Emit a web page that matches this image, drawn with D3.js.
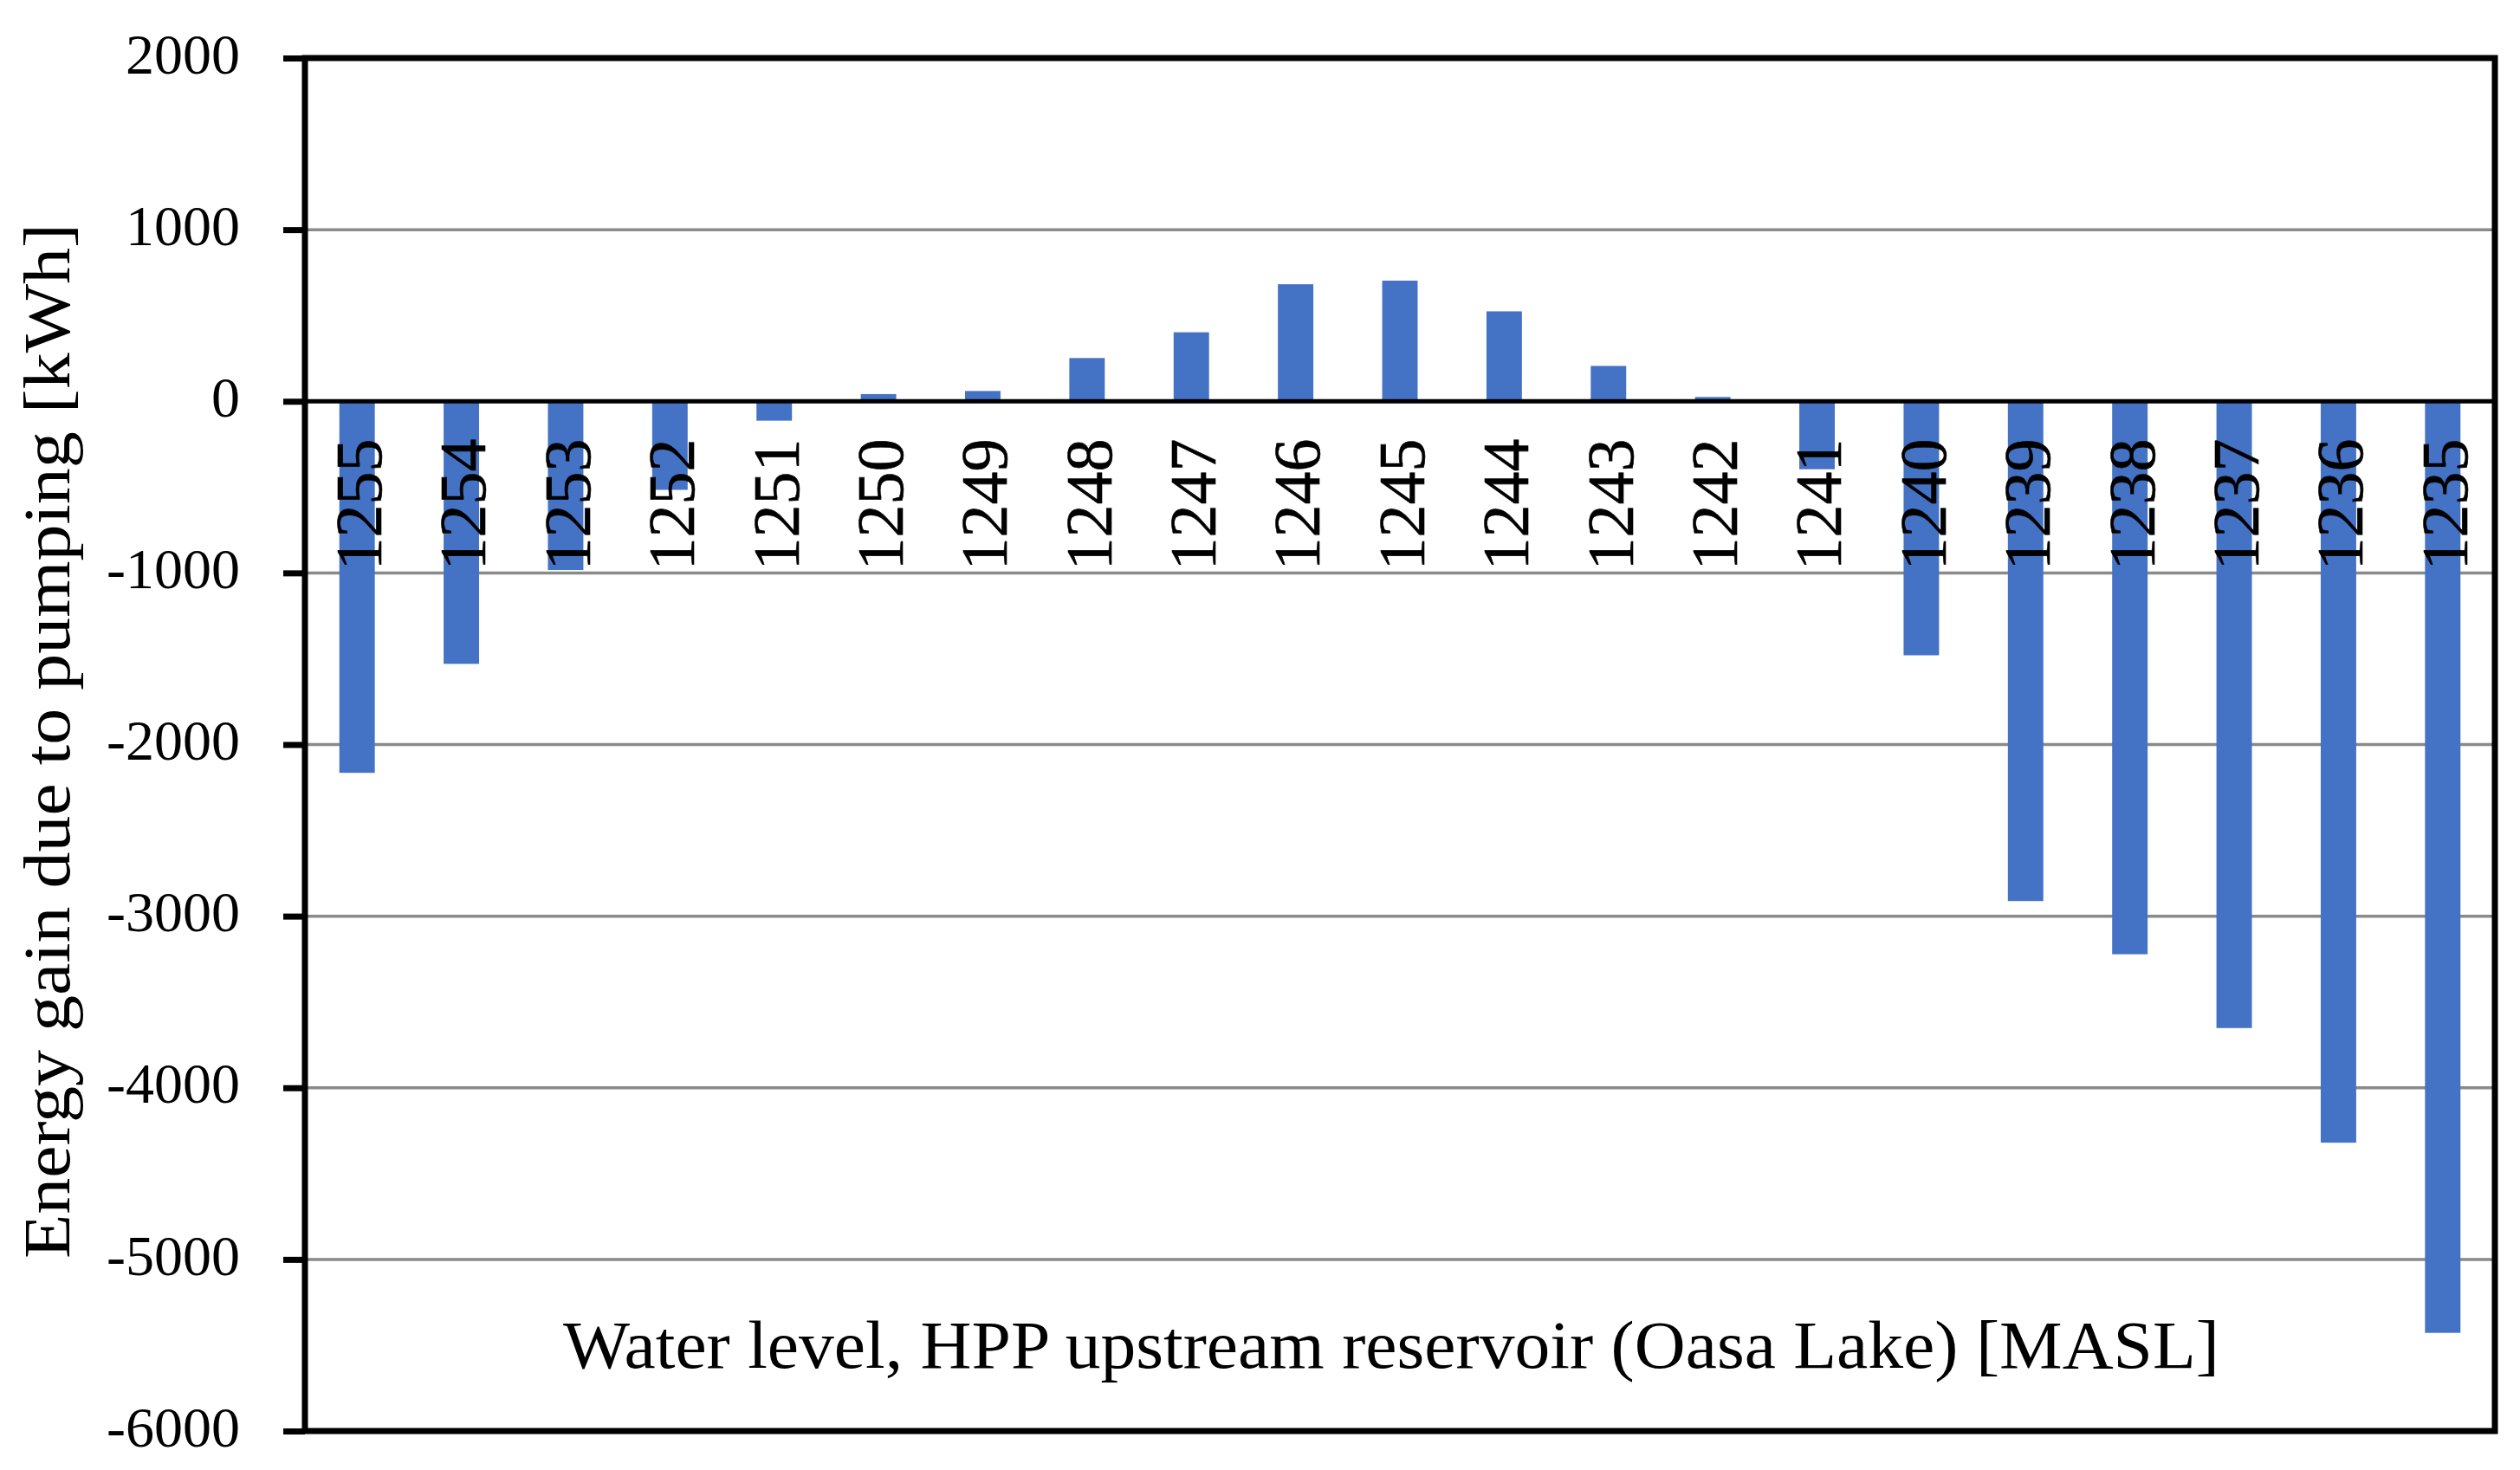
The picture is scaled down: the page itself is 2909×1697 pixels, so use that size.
<!DOCTYPE html>
<html>
<head>
<meta charset="utf-8">
<script src="https://cdn.jsdelivr.net/npm/d3@7"></script>
<style>
  body { margin: 0; background: #fff; }
  svg { display: block; }
  text { font-family: "Liberation Serif", "Times New Roman", serif; fill: #000; }
</style>
</head>
<body>
<svg id="chart"></svg>
<script>
// water level categories, left to right
var levels = ["1255", "1254", "1253", "1252", "1251", "1250", "1249", "1248", "1247", "1246", "1245",
              "1244", "1243", "1242", "1241", "1240", "1239", "1238", "1237", "1236", "1235"];
// energy gain per level [kWh]
var gain = [-2165, -1530, -983, -516, -113, 42, 60, 252, 402, 682, 703,
            524, 206, 25, -396, -1480, -2912, -3222, -3652, -4320, -5428];
var yTicks = [2000, 1000, 0, -1000, -2000, -3000, -4000, -5000, -6000];
var yTitle = "Energy gain due to pumping [kWh]";
var xTitle = "Water level, HPP upstream reservoir (Oasa Lake) [MASL]";

var W = 2909, H = 1697;
// plot area (note: "top" is a reserved window prop, so use pTop etc)
var pLeft = 352, pRight = 2880, pTop = 67, pBottom = 1652;

var svg = d3.select('#chart').attr('width', W).attr('height', H);

var x = d3.scaleBand().domain(levels).range([pLeft, pRight]).paddingInner(0.66).paddingOuter(0.33);
var y = d3.scaleLinear().domain([-6000, 2000]).range([pBottom, pTop]);

// gridlines
svg.append('g')
    .selectAll('line')
    .data(yTicks.filter(function(d){ return d != 0 && d != 2000 && d != -6000; }))
    .join('line')
    .attr('x1', pLeft).attr('x2', pRight)
    .attr('y1', function(d){ return y(d); }).attr('y2', function(d){ return y(d); })
    .attr('stroke', '#8a8a8a').attr('stroke-width', 3.5);

// bars
svg.append('g')
    .selectAll('rect')
    .data(levels)
    .join('rect')
    .attr('x', function(d){ return x(d); })
    .attr('width', x.bandwidth())
    .attr('y', function(d, i){ return Math.min(y(0), y(gain[i])); })
    .attr('height', function(d, i){ return Math.abs(y(gain[i]) - y(0)); })
    .attr('fill', '#4472C4');

// zero line
svg.append('line')
    .attr('x1', pLeft).attr('x2', pRight)
    .attr('y1', y(0)).attr('y2', y(0))
    .attr('stroke', '#000').attr('stroke-width', 5);

// plot border
svg.append('rect')
    .attr('x', pLeft).attr('y', pTop)
    .attr('width', pRight - pLeft).attr('height', pBottom - pTop)
    .attr('fill', 'none').attr('stroke', '#000').attr('stroke-width', 7);

// y axis
var ax = d3.axisLeft(y).tickValues(yTicks).tickSize(25).tickPadding(50)
    .tickFormat(function(d){ return String(d); });
var gy = svg.append('g').attr('transform', 'translate(' + pLeft + ',0)').call(ax);
gy.select('.domain').remove();
gy.selectAll('.tick line').attr('stroke', '#000').attr('stroke-width', 7);
gy.selectAll('.tick text')
    .attr('font-family', '"Liberation Serif", serif')
    .attr('font-size', 66)
    .attr('dy', '0.26em')
    .attr('fill', '#000');

// category labels, rotated, sitting on the -1000 line
svg.append('g')
    .selectAll('text')
    .data(levels)
    .join('text')
    .attr('transform', function(d){
        return 'translate(' + (x(d) + x.bandwidth() / 2 + 2) + ',' + (y(-1000) - 3) + ') rotate(-90)';
    })
    .attr('dy', '0.34em')
    .attr('text-anchor', 'start')
    .attr('font-size', 76)
    .attr('stroke', '#000').attr('stroke-width', 0.6)
    .text(function(d){ return d; });

// axis titles
svg.append('text')
    .attr('x', (pLeft + pRight) / 2 - 10)
    .attr('y', 1579)
    .attr('text-anchor', 'middle')
    .attr('font-size', 78)
    .attr('textLength', 1912)
    .attr('lengthAdjust', 'spacingAndGlyphs')
    .text(xTitle);

svg.append('text')
    .attr('transform', 'translate(80,' + ((pTop + pBottom) / 2 - 4) + ') rotate(-90)')
    .attr('text-anchor', 'middle')
    .attr('font-size', 76)
    .attr('textLength', 1195)
    .attr('lengthAdjust', 'spacingAndGlyphs')
    .text(yTitle);
</script>
</body>
</html>
